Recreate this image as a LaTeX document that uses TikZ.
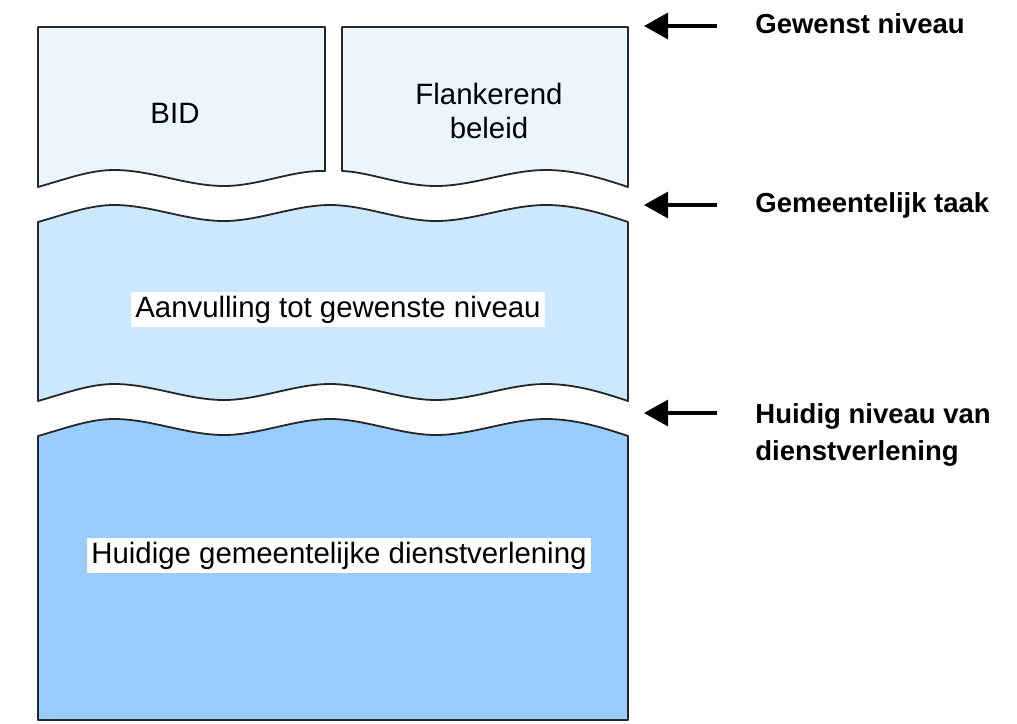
\documentclass[tikz,border=0pt]{standalone}
\usepackage{fontspec}
\setmainfont{Liberation Sans}
\usetikzlibrary{arrows.meta}
\definecolor{lichtblauw}{HTML}{EAF5FE}
\definecolor{middenblauw}{HTML}{CCE8FD}
\definecolor{donkerblauw}{HTML}{99CCFF}
\tikzset{
	blok/.style={draw=black!85, line width=0.9pt, line join=round},
	tekst/.style={font=\fontsize{14.7}{17}\selectfont, inner sep=0pt},
	witlabel/.style={tekst, fill=white, inner xsep=2pt, inner ysep=2pt},
	niveau/.style={font=\bfseries\fontsize{13.75}{18.5}\selectfont, align=left, inner sep=0pt, anchor=base west},
	pijl/.style={-{Triangle[length=12pt,width=13pt]}, line width=1.6pt}
}
% golvende rand, links naar rechts en terug
\newcommand{\golfheen}[1]{(38,#1+9) .. controls (66,#1+1) and (90,#1-8) .. (114,#1-8) .. controls (151,#1-8) and (187,#1+8) .. (224,#1+8) .. controls (259,#1+8) and (295,#1-8) .. (330,#1-8) .. controls (365,#1-8) and (401,#1+8) .. (436,#1+8) .. controls (473,#1+8) and (509,#1-8) .. (546,#1-8) .. controls (576,#1-8) and (604,#1+1) .. (628,#1+9)}
\newcommand{\golfterug}[1]{(628,#1+9) .. controls (604,#1+1) and (576,#1-8) .. (546,#1-8) .. controls (509,#1-8) and (473,#1+8) .. (436,#1+8) .. controls (401,#1+8) and (365,#1-8) .. (330,#1-8) .. controls (295,#1-8) and (259,#1+8) .. (224,#1+8) .. controls (187,#1+8) and (151,#1-8) .. (114,#1-8) .. controls (90,#1-8) and (66,#1+1) .. (38,#1+9)}

\begin{document}
\begin{tikzpicture}[x=0.5pt, y=-0.5pt]
\useasboundingbox (0,0) rectangle (1017,723);

% blokken
\draw[blok, fill=lichtblauw] (38,27) -- (325,27) -- (325,171) .. controls (292,170) and (259,186) .. (224,186) .. controls (187,186) and (151,170) .. (114,170) .. controls (90,170) and (66,179) .. (38,187) -- cycle;
\draw[blok, fill=lichtblauw] (342,27) -- (628,27) -- (628,187) .. controls (604,179) and (576,170) .. (546,170) .. controls (509,170) and (473,186) .. (436,186) .. controls (401,186) and (370,172) .. (342,171) -- cycle;
\draw[blok, fill=middenblauw] \golfheen{213} -- \golfterug{392} -- cycle;
\draw[blok, fill=donkerblauw] \golfheen{427} -- (628,720) -- (38,720) -- cycle;

\node[tekst, anchor=base] (bid) at (175,123) {BID};
\node[tekst, align=center, font=\fontsize{14.7}{17}\selectfont] (flank) at (489,111) {Flankerend\\beleid};
\node[witlabel, anchor=base] (aanvul) at (338,317) {Aanvulling tot gewenste niveau};
\node[witlabel, anchor=base] (huidig) at (339,563) {Huidige gemeentelijke dienstverlening};

% niveaus rechts
\node[niveau] (gewenst) at (755,33) {Gewenst niveau};
\node[niveau] (taak) at (755,212) {Gemeentelijk taak};
\node[niveau, anchor=west] (dienst) at (755,435) {Huidig niveau van\\dienstverlening};

\coordinate (startA) at (717,26);
\coordinate (tipA) at (644,26);
\coordinate (startB) at (717,205);
\coordinate (tipB) at (644,205);
\coordinate (startC) at (717,413);
\coordinate (tipC) at (644,413);

\draw[pijl] (startA) -- (tipA);
\draw[pijl] (startB) -- (tipB);
\draw[pijl] (startC) -- (tipC);
\end{tikzpicture}
\end{document}
